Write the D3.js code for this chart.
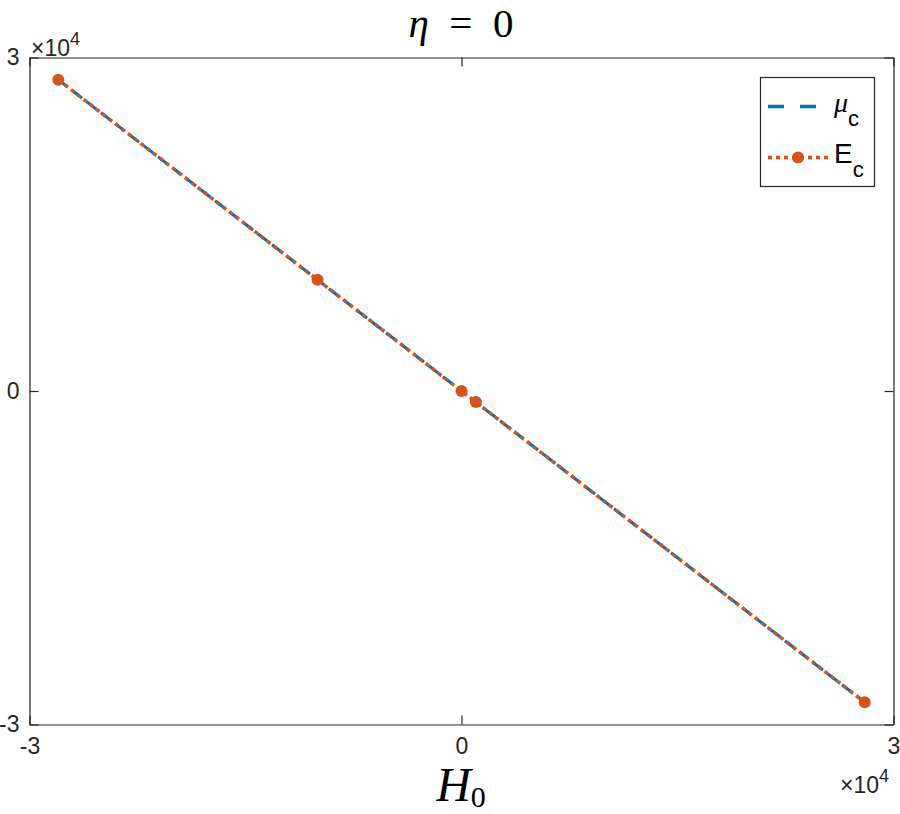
<!DOCTYPE html>
<html><head><meta charset="utf-8">
<script src="https://cdn.jsdelivr.net/npm/d3@7"></script>
<style>body{margin:0;background:#fff}svg{display:block}</style>
</head><body>
<script>
// Data
const H0 = [-28000, -10000, 0, 1000, 28000];
const muC = [28000, 10000, 0, -1000, -28000];
const EC = [28000, 10000, 0, -1000, -28000];
const xTicks = [-30000, 0, 30000];
const yTicks = [-30000, 0, 30000];
const tickLabels = ["-3", "0", "3"];

const W = 900, H = 814;
const m = {left: 29.5, right: 893.5, top: 57.5, bottom: 724.5};
const svg = d3.select("body").append("svg").attr("width", W).attr("height", H);
const x = d3.scaleLinear().domain([-30000, 30000]).range([m.left, m.right]);
const y = d3.scaleLinear().domain([-30000, 30000]).range([m.bottom, m.top]);
const font = "'Liberation Sans', Arial, Helvetica, sans-serif";
const serif = "'Liberation Serif', 'Times New Roman', serif";
const axCol = "#262626";

// axes (box with inward ticks)
const fmt = (d, i) => tickLabels[i];
const gx = svg.append("g").attr("transform", `translate(0,${m.bottom})`)
  .call(d3.axisBottom(x).tickValues(xTicks).tickFormat(fmt).tickSizeInner(-9).tickSizeOuter(0).tickPadding(13));
const gxt = svg.append("g").attr("transform", `translate(0,${m.top})`)
  .call(d3.axisTop(x).tickValues(xTicks).tickFormat("").tickSizeInner(-9).tickSizeOuter(0));
const gy = svg.append("g").attr("transform", `translate(${m.left},0)`)
  .call(d3.axisLeft(y).tickValues(yTicks).tickFormat(fmt).tickSizeInner(-9).tickSizeOuter(0).tickPadding(10));
const gyr = svg.append("g").attr("transform", `translate(${m.right},0)`)
  .call(d3.axisRight(y).tickValues(yTicks).tickFormat("").tickSizeInner(-9).tickSizeOuter(0));
[gx, gxt, gy, gyr].forEach(g => {
  g.attr("font-size", 23).attr("font-family", font);
  g.selectAll(".domain").attr("stroke", axCol).attr("stroke-width", 1.2);
  g.selectAll(".tick line").attr("stroke", axCol).attr("stroke-width", 1.2);
  g.selectAll(".tick text").attr("fill", axCol).style("font-family", font).style("font-size", "23px");
});
gx.selectAll(".tick text").attr("dy", "0.71em");

// exponent labels
function expo(xp, yp) {
  const t = svg.append("text").attr("x", xp).attr("y", yp).attr("fill", axCol)
    .style("font-family", font).style("font-size", "23px");
  t.append("tspan").text("×10");
  t.append("tspan").attr("dy", -11).style("font-size", "18px").text("4");
}
expo(31, 56);
expo(840, 793);

// lines
const line = d3.line().x((d, i) => x(H0[i])).y(d => y(d));
svg.append("path").datum(muC).attr("d", line).attr("fill", "none")
  .attr("stroke", "#0072BD").attr("stroke-width", 3).attr("stroke-dasharray", "12,6");
svg.append("path").datum(EC).attr("d", line).attr("fill", "none")
  .attr("stroke", "#D95319").attr("stroke-width", 3.5).attr("stroke-dasharray", "4,4");
svg.selectAll("circle.pt").data(EC).enter().append("circle").attr("class", "pt")
  .attr("cx", (d, i) => x(H0[i])).attr("cy", d => y(d)).attr("r", 6).attr("fill", "#D95319");

// legend
const lg = svg.append("g");
lg.append("rect").attr("x", 760.5).attr("y", 77.5).attr("width", 114).attr("height", 109)
  .attr("fill", "#fff").attr("stroke", axCol).attr("stroke-width", 1.2);
lg.append("line").attr("x1", 768).attr("x2", 817).attr("y1", 106.5).attr("y2", 106.5)
  .attr("stroke", "#0072BD").attr("stroke-width", 3.5).attr("stroke-dasharray", "16,16");
lg.append("line").attr("x1", 768).attr("x2", 828).attr("y1", 157.5).attr("y2", 157.5)
  .attr("stroke", "#D95319").attr("stroke-width", 3.5).attr("stroke-dasharray", "4,4");
lg.append("circle").attr("cx", 798).attr("cy", 157.5).attr("r", 6).attr("fill", "#D95319");
const t1 = lg.append("text").attr("x", 834).attr("y", 112).attr("fill", "#000")
  .style("font-family", font).style("font-size", "28px");
t1.append("tspan").style("font-family", serif).style("font-style", "italic").text("μ");
t1.append("tspan").attr("dy", 14).style("font-size", "22px").text("c");
const t2 = lg.append("text").attr("x", 834).attr("y", 163).attr("fill", "#000")
  .style("font-family", font).style("font-size", "28px");
t2.append("tspan").text("E");
t2.append("tspan").attr("dy", 14).style("font-size", "22px").text("c");

// title
const tt = svg.append("text").attr("x", 461).attr("y", 37).attr("text-anchor", "middle")
  .style("font-family", serif).style("font-size", "41px").attr("fill", "#000");
tt.append("tspan").style("font-style", "italic").text("η");
tt.append("tspan").text("\u2002=\u20020");

// x label
const xl = svg.append("text").attr("x", 461).attr("y", 801).attr("text-anchor", "middle")
  .style("font-family", serif).style("font-size", "48px").attr("fill", "#000");
xl.append("tspan").style("font-style", "italic").text("H");
xl.append("tspan").attr("dy", 6).style("font-size", "30px").text("0");
</script>
</body></html>
